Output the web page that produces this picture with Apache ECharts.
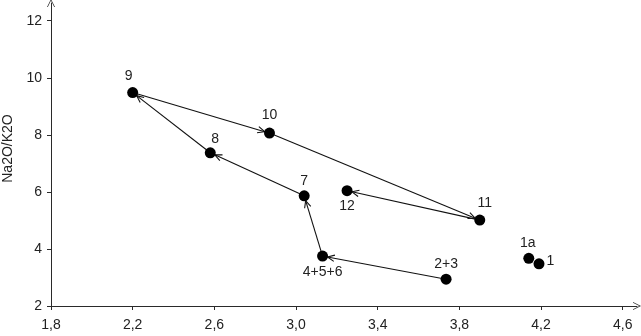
<!DOCTYPE html>
<html>
<head>
<meta charset="utf-8">
<script src="https://cdn.jsdelivr.net/npm/echarts@6/dist/echarts.min.js"></script>
<style>html,body{margin:0;padding:0;background:#fff;}#c{width:641px;height:336px;}</style>
</head>
<body>
<div id="c"></div>
<script>
// Sample labels and their coordinates
const pointLabels = ['1', '1a', '2+3', '4+5+6', '7', '8', '9', '10', '11', '12'];
const xValues = [4.19, 4.14, 3.735, 3.13, 3.04, 2.58, 2.20, 2.87, 3.90, 3.25];
const yValues = [3.48, 3.67, 2.94, 3.75, 5.86, 7.37, 9.48, 8.06, 5.01, 6.04];
// Order of the arrowed path
const pathOrder = ['2+3', '4+5+6', '7', '8', '9', '10', '11', '12'];
// Axis ticks
const xTicks = [1.8, 2.2, 2.6, 3.0, 3.4, 3.8, 4.2, 4.6];
const yTicks = [2, 4, 6, 8, 10, 12];
const yAxisName = 'Na2O/K2O';

// label placement (style only)
const labelPlacement = {
  '1': {position: 'right', offset: [-2, -3]},
  '1a': {position: 'top', offset: [-1, 1]},
  '2+3': {position: 'top', offset: [0, 1]},
  '4+5+6': {position: 'bottom', offset: [0, 0]},
  '7': {position: 'top', offset: [0, 2]},
  '8': {position: 'top', offset: [5, 3]},
  '9': {position: 'top', offset: [-4, 0]},
  '10': {position: 'top', offset: [0, -1]},
  '11': {position: 'top', offset: [5, 0]},
  '12': {position: 'bottom', offset: [0, -1]}
};

const FONT = 'Liberation Sans, Arial, sans-serif';
const AX = '#2a2a2a';

const scatterData = pointLabels.map((n, i) => ({
  value: [xValues[i], yValues[i]],
  name: n,
  label: {show: true, formatter: n, position: labelPlacement[n].position, offset: labelPlacement[n].offset}
}));

const segData = [];
for (let i = 0; i < pathOrder.length - 1; i++) {
  const a = pointLabels.indexOf(pathOrder[i]);
  const b = pointLabels.indexOf(pathOrder[i + 1]);
  segData.push([xValues[a], yValues[a], xValues[b], yValues[b]]);
}

const fmt = v => Number(v).toFixed(1).replace('.', ',');
const arrowPath = 'path://M0,10 L5,0 L10,10 L9,10 L5,2 L1,10 Z';

const chart = echarts.init(document.getElementById('c'));
chart.setOption({
  animation: false,
  backgroundColor: '#fff',
  grid: {left: 51, right: 4, top: 3, bottom: 30, containLabel: false, outerBoundsMode: 'none'},
  xAxis: {
    type: 'value', min: 1.8, max: 4.67,
    splitLine: {show: false},
    axisLine: {show: true, lineStyle: {color: AX, width: 1}, symbol: ['none', arrowPath], symbolSize: [8, 9]},
    axisTick: {show: true, length: 4, customValues: xTicks, lineStyle: {color: AX}},
    axisLabel: {customValues: xTicks, formatter: fmt, margin: 12, fontSize: 14, color: '#222', fontFamily: FONT}
  },
  yAxis: {
    type: 'value', min: 2, max: 12.62,
    name: yAxisName, nameLocation: 'middle', nameGap: 33, nameRotate: 90,
    nameTextStyle: {fontSize: 14, color: '#222', fontFamily: FONT, padding: [0, 0, 0, 12]},
    splitLine: {show: false},
    axisLine: {show: true, lineStyle: {color: AX, width: 1}, symbol: ['none', arrowPath], symbolSize: [8, 9]},
    axisTick: {show: true, length: 4, customValues: yTicks, lineStyle: {color: AX}},
    axisLabel: {customValues: yTicks, margin: 9, fontSize: 14, color: '#222', fontFamily: FONT}
  },
  series: [
    {
      type: 'custom',
      data: segData,
      z: 2,
      silent: true,
      renderItem: function (params, api) {
        const p1 = api.coord([api.value(0), api.value(1)]);
        const p2 = api.coord([api.value(2), api.value(3)]);
        const dx = p2[0] - p1[0], dy = p2[1] - p1[1];
        const len = Math.sqrt(dx * dx + dy * dy);
        const ux = dx / len, uy = dy / len;
        const r = 5;
        const e = [p2[0] - ux * r, p2[1] - uy * r];
        const h = 7, w = 3.2;
        const b1 = [e[0] - ux * h - uy * w, e[1] - uy * h + ux * w];
        const b2 = [e[0] - ux * h + uy * w, e[1] - uy * h - ux * w];
        return {
          type: 'group',
          children: [
            {type: 'line', shape: {x1: p1[0], y1: p1[1], x2: e[0], y2: e[1]}, style: {stroke: '#111', lineWidth: 1.1}},
            {type: 'polyline', shape: {points: [b1, e, b2]}, style: {stroke: '#111', fill: null, lineWidth: 1.1}}
          ]
        };
      }
    },
    {
      type: 'scatter',
      z: 3,
      symbol: 'circle',
      symbolSize: 11,
      itemStyle: {color: '#000', opacity: 1},
      label: {fontSize: 14, color: '#222', fontFamily: FONT, distance: 4},
      data: scatterData
    }
  ]
});
</script>
</body>
</html>
